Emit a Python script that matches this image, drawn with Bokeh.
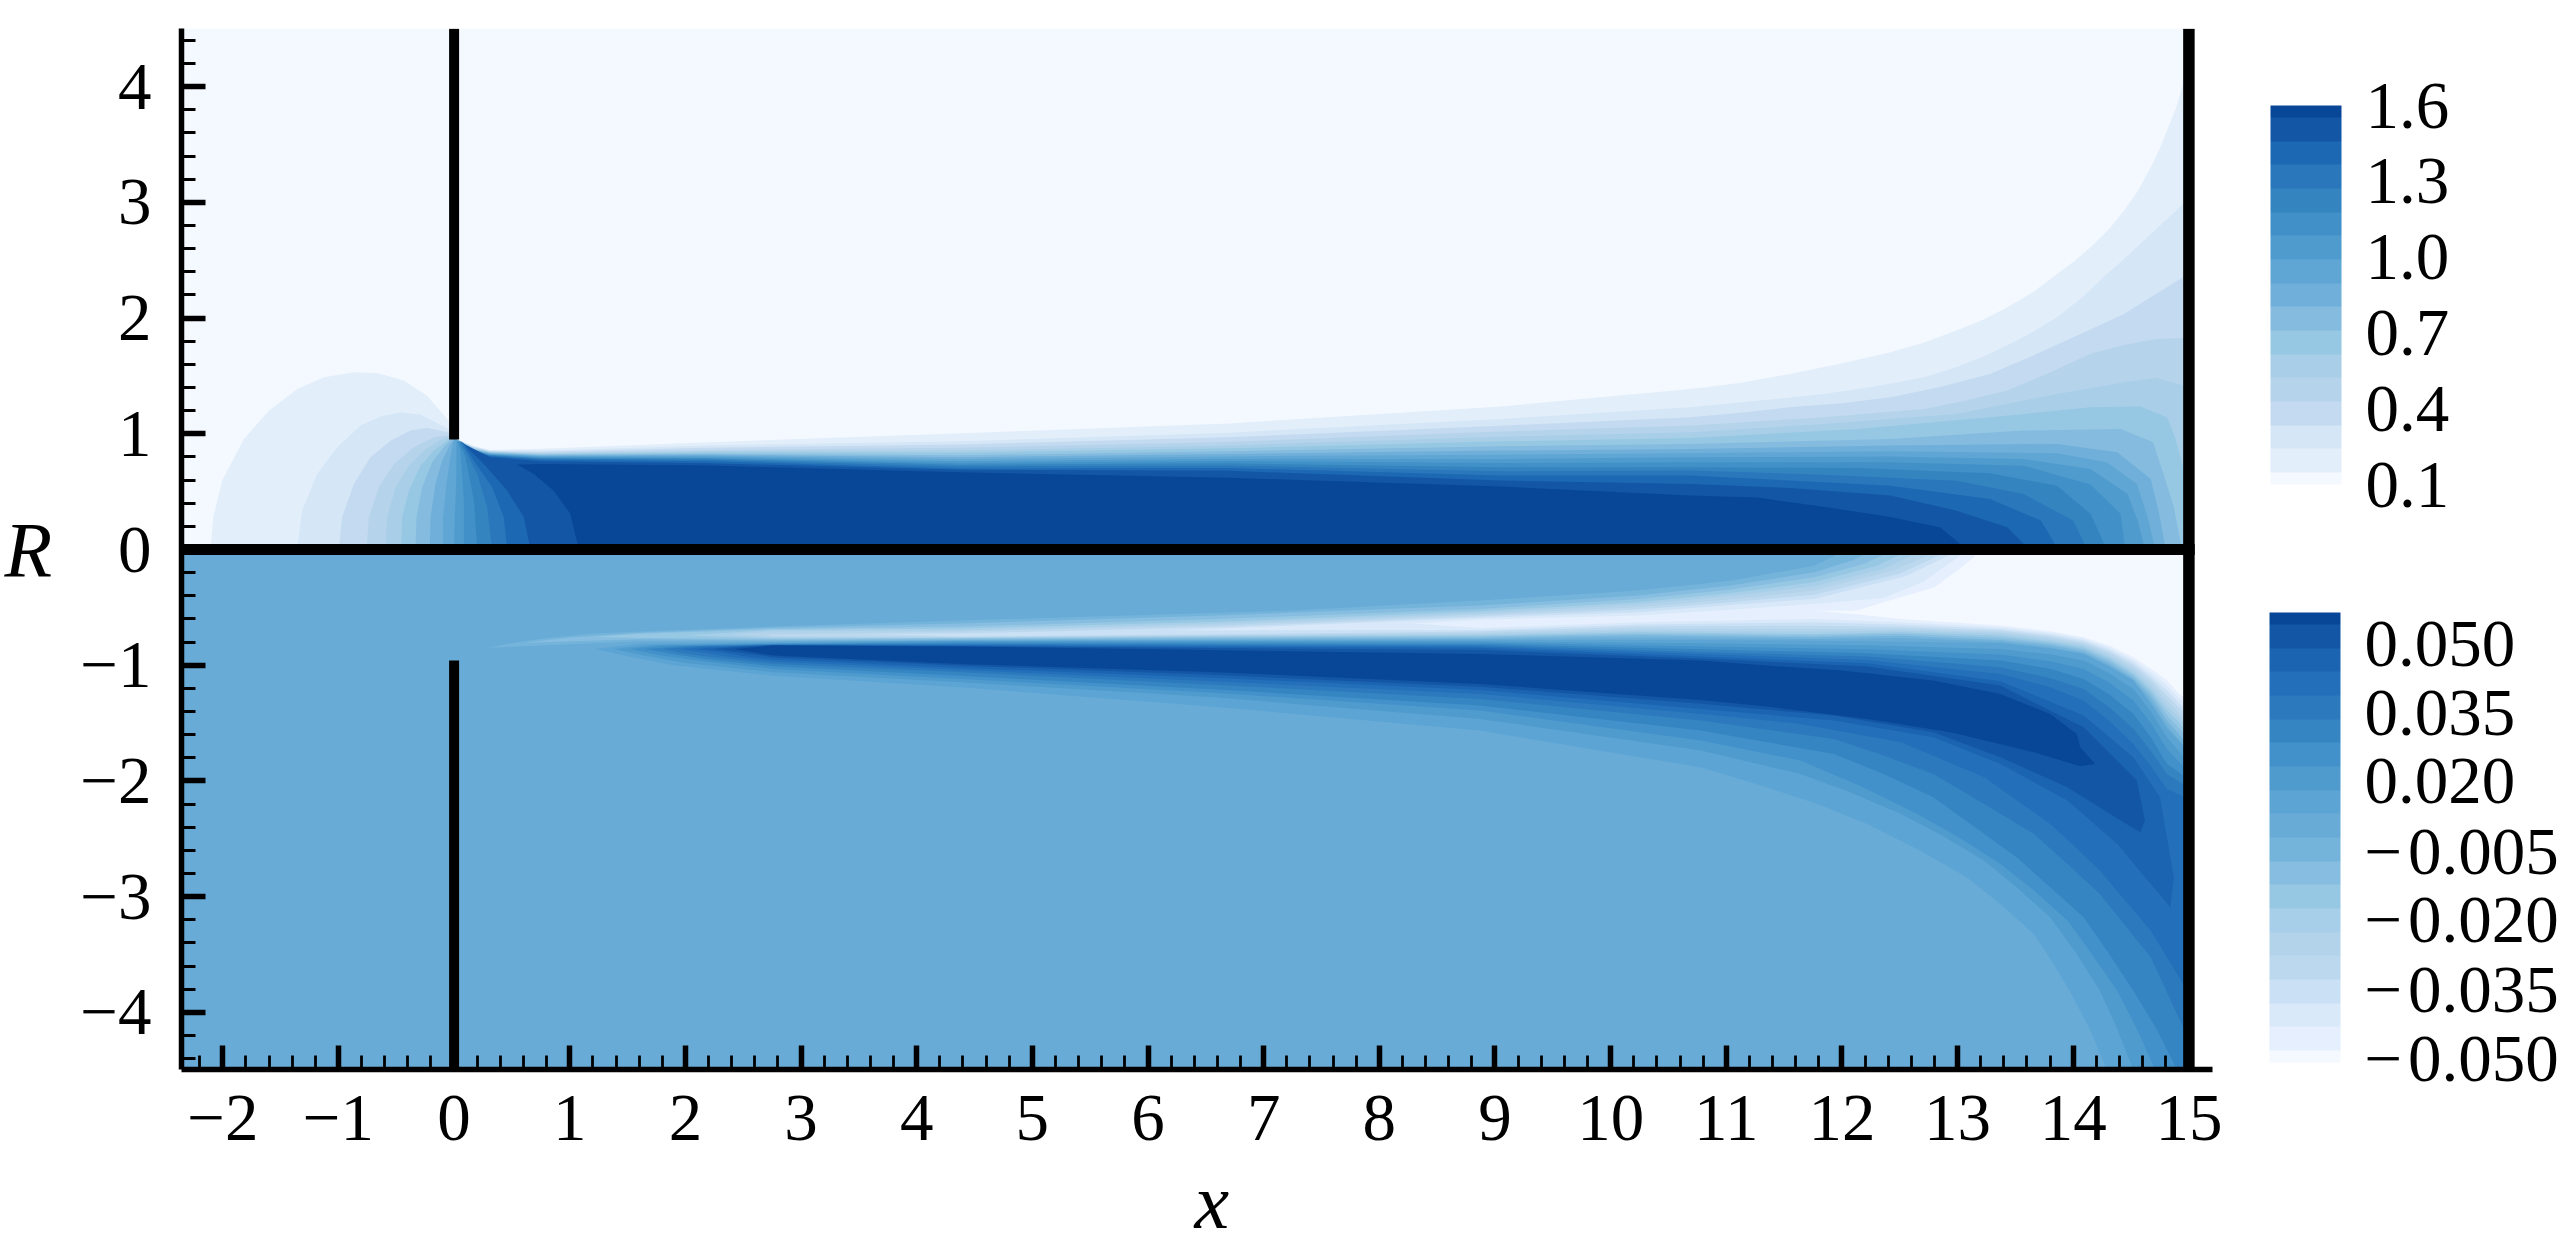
from bokeh.plotting import figure
from bokeh.embed import file_html
from bokeh.resources import INLINE
from bokeh.models import (AllLabels, FixedTicker, LinearColorMapper, ColorBar, BoxAnnotation, Range1d, Title)

# ---------- axes ----------
x_major = list(range(-2, 16))
x_minor = [round(-2.2 + 0.2 * i, 1) for i in range(87) if round((-2.2 + 0.2 * i) % 1, 1) not in (0.0, 1.0)]
y_major = list(range(-4, 5))
y_minor = [round(-4.4 + 0.2 * i, 1) for i in range(45) if round((-4.4 + 0.2 * i) % 1, 1) not in (0.0, 1.0)]
x_title = "x"
y_title = "R"

# ---------- colour bars ----------
top_ticks = [0.1, 0.4, 0.7, 1.0, 1.3, 1.6]
top_tick_labels = ["0.1", "0.4", "0.7", "1.0", "1.3", "1.6"]
# the lower bar's labels are evenly spaced along it, so they sit at these bar positions
bot_ticks = [-0.0489, -0.0336, -0.0182, -0.0029, 0.0127, 0.028, 0.0433]
bot_tick_labels = ["\u2212\u200a0.050", "\u2212\u200a0.035", "\u2212\u200a0.020", "\u2212\u200a0.005", "0.020", "0.035", "0.050"]

# lightest to darkest
top_colors = ["#f4f9ff", "#e3eefb", "#d5e6f6", "#c4daf0", "#b5d4ec", "#a8cfe7", "#96c8e3", "#84bbde", "#6fafda",
              "#5fa6d4", "#4f9bce", "#4191c8", "#3484c0", "#2a77bc", "#1c68b3", "#1356a5", "#084798"]
bot_colors = ["#f4f9ff", "#e5effd", "#dae9f9", "#cae0f5", "#bcd8ee", "#b2d3ea", "#a8cfe9", "#96c7e3", "#87bde0",
              "#74b4db", "#68abd7", "#5ca4d4", "#4f9bcd", "#4291ca", "#3585c2", "#2c7abd", "#236fba", "#1b64b1",
              "#1356a5", "#084798"]
bot_base = "#68abd7"

# ---------- upper panel: contour outlines ----------
# one outline per level, lowest level first
top_left = [
    [(-2.106, 0), (-2.083, .279), (-2.005, .596), (-1.818, .956), (-1.602, 1.2), (-1.357, 1.388), (-1.126, 1.489), (-.867, 1.532), (-.665, 1.526), (-.435, 1.46), (-.233, 1.33), (-.046, 1.114), (0, .96)],
    [(-1.357, 0), (-1.314, .336), (-1.184, .653), (-1.011, .884), (-.809, 1.071), (-.636, 1.149), (-.463, 1.184), (-.291, 1.166), (-.046, 1.042), (0, .96)],
    [(-.997, 0), (-.968, .279), (-.867, .567), (-.723, .797), (-.55, .941), (-.377, 1.028), (-.233, 1.051), (-.046, 1.013), (0, .96)],
    [(-.757, 0), (-.737, .279), (-.651, .538), (-.521, .74), (-.348, .884), (-.175, .97), (-.031, .99), (0, .96)],
    [(-.593, 0), (-.579, .279), (-.507, .538), (-.391, .725), (-.262, .855), (-.118, .947), (-.008, .985), (0, .96)],
    [(-.458, 0), (-.449, .279), (-.391, .509), (-.29, .725), (-.175, .855), (-.017, .97), (0.01, .96)],
    [(-.334, 0), (-.325, .279), (-.276, .538), (-.19, .754), (-.089, .884), (-.008, .97), (0.01, .96)],
    [(-.21, 0), (-.204, .279), (-.161, .567), (-.103, .769), (-.031, .913), (0.01, .96)],
    [(-.097, 0), (-.095, .279), (-.066, .567), (-.037, .769), (-.002, .956), (0.015, .95)],
    [(-.002, 0), (.006, .279), (.018, .567), (.021, .94)],
    [(.084, 0), (.084, .423), (.055, .855), (.03, .94)],
    [(.2, 0), (.171, .423), (.099, .797), (.04, .94)],
    [(.329, 0), (.286, .365), (.2, .653), (.055, .94)],
    [(.459, 0), (.43, .279), (.329, .538), (.17, .769), (.07, .927)],
    [(.66, 0), (.603, .279), (.459, .509), (.257, .74), (.084, .913)],
    [(1.078, 0), (1.006, .307), (.862, .509), (.689, .653), (.545, .734)],
]
top_edge_x = [.17, .31, .75, 2.2, 4.38, 6.7, 9.05, 10.69]
top_edge_y = [
    [.895, .86, .87, .928, 1.005, 1.09, 1.236, 1.388],
    [.89, .855, .856, .899, .936, 1.01, 1.129, 1.229],
    [.885, .85, .844, .879, .908, .97, 1.07, 1.143],
    [.88, .847, .836, .861, .879, .93, 1.02, 1.071],
    [.875, .844, .83, .85, .856, .90, .975, 1.013],
    [.87, .84, .824, .838, .836, .875, .935, .964],
    [.866, .836, .818, .827, .815, .85, .893, .913],
    [.862, .832, .812, .818, .798, .825, .855, .869],
    [.858, .828, .807, .81, .781, .805, .82, .832],
    [.854, .824, .801, .801, .763, .785, .783, .797],
    [.85, .82, .795, .792, .746, .765, .748, .754],
    [.846, .816, .789, .784, .732, .745, .711, .711],
    [.842, .812, .784, .775, .717, .725, .676, .682],
    [.838, .807, .775, .763, .70, .705, .639, .639],
    [None, .80, .763, .746, .689, .68, .596, .567],
    [None, None, .74, .726, .668, .62, .544, .466],
]
top_right = [
    [(11.11, 1.44), (11.55, 1.518), (11.98, 1.605), (12.42, 1.705), (12.71, 1.79), (12.99, 1.892), (13.22, 1.985), (13.43, 2.094), (13.66, 2.23), (13.86, 2.382), (14.0, 2.485), (14.15, 2.613), (14.31, 2.77), (14.44, 2.93), (14.56, 3.1), (14.67, 3.304), (14.75, 3.47), (14.81, 3.621), (14.89, 3.82), (14.95, 4.025), (15, 4.2), (15, 0)],
    [(11.27, 1.285), (11.84, 1.345), (12.28, 1.41), (12.71, 1.489), (13.0, 1.58), (13.28, 1.691), (13.58, 1.84), (13.86, 2.008), (14.08, 2.18), (14.29, 2.382), (14.44, 2.51), (14.58, 2.642), (14.76, 2.81), (14.95, 2.987), (15, 3.03), (15, 0)],
    [(11.1, 1.18), (11.55, 1.229), (12.0, 1.265), (12.42, 1.316), (12.85, 1.405), (13.28, 1.518), (13.64, 1.67), (14.0, 1.835), (14.22, 1.935), (14.44, 2.036), (14.7, 2.2), (14.95, 2.353), (15, 2.38), (15, 0)],
    [(11.84, 1.143), (12.71, 1.215), (13.08, 1.29), (13.43, 1.374), (13.8, 1.53), (14.15, 1.691), (14.45, 1.77), (14.72, 1.82), (15, 1.83), (15, 0)],
    [(11.84, 1.085), (12.99, 1.172), (13.86, 1.345), (14.44, 1.446), (14.72, 1.483), (14.95, 1.417), (15, 1.40), (15, 0)],
    [(12.13, 1.042), (13.28, 1.143), (14.15, 1.229), (14.58, 1.235), (14.81, 1.143), (14.88, .97), (14.95, .711), (15, .55), (15, 0)],
    [(12.42, .956), (13.57, 1.028), (14.41, 1.042), (14.69, .927), (14.78, .653), (14.87, .365), (14.93, .048), (14.93, 0)],
    [(12.42, .898), (13.86, .913), (14.38, .84), (14.67, .61), (14.74, .32), (14.8, 0)],
    [(12.42, .849), (13.86, .832), (14.29, .754), (14.55, .567), (14.64, .29), (14.71, 0)],
    [(12.42, .803), (13.57, .783), (14.15, .696), (14.47, .48), (14.56, .24), (14.62, 0)],
    [(12.42, .754), (13.57, .725), (14.15, .561), (14.41, .307), (14.45, 0)],
    [(12.13, .705), (13.28, .659), (13.86, .552), (14.15, .307), (14.29, 0)],
    [(11.84, .647), (12.99, .595), (13.57, .48), (14.0, .25), (14.12, 0)],
    [(11.55, .596), (12.42, .552), (13.28, .437), (13.72, .25), (13.87, 0)],
    [(11.55, .532), (12.42, .466), (12.99, .336), (13.43, .192), (13.62, 0)],
    [(11.27, .449), (11.84, .37), (12.42, .28), (12.85, .19), (13.08, 0)],
]

# ---------- lower panel: negative tongue, lowest magnitude first ----------
neg_upper = [
    [(.285, -.85), (.458, -.816), (.747, -.772), (1.18, -.729), (1.61, -.709), (2.76, -.666), (4.38, -.614), (5.82, -.571), (7.26, -.528), (8.87, -.441), (10.24, -.355), (11.04, -.269), (11.76, -.14), (12.05, 0)],
    [(.6, -.805), (1.0, -.76), (1.61, -.72), (2.76, -.677), (4.38, -.64), (6.6, -.57), (8.87, -.484), (10.24, -.398), (11.04, -.31), (11.76, -.197), (12.1, -.09), (12.28, 0)],
    [(1.2, -.755), (1.61, -.729), (2.76, -.686), (4.38, -.666), (6.6, -.60), (8.87, -.513), (10.24, -.427), (11.04, -.345), (11.76, -.24), (12.2, -.12), (12.45, 0)],
    [(2.0, -.74), (2.76, -.695), (4.38, -.683), (6.6, -.625), (8.87, -.533), (10.24, -.456), (11.04, -.375), (11.76, -.283), (12.3, -.14), (12.6, 0)],
    [(2.4, -.735), (2.76, -.706), (4.38, -.70), (6.6, -.64), (8.87, -.551), (10.24, -.476), (11.04, -.40), (11.76, -.318), (12.35, -.17), (12.72, 0)],
    [(2.7, -.735), (4.38, -.709), (6.6, -.655), (8.87, -.562), (10.24, -.499), (11.04, -.43), (11.76, -.355), (12.45, -.18), (12.85, 0)],
    [(3.6, -.73), (4.38, -.726), (6.6, -.67), (8.87, -.577), (10.24, -.519), (11.04, -.455), (11.76, -.39), (12.5, -.21), (12.95, 0)],
    [(6.2, -.70), (8.87, -.591), (10.24, -.542), (11.04, -.48), (11.76, -.427), (12.55, -.23), (13.03, 0)],
    [(8.3, -.64), (8.87, -.606), (10.24, -.571), (11.04, -.52), (11.76, -.47), (12.36, -.42), (12.7, -.28), (13.1, 0)],
    [(11.76, -.528), (12.12, -.53), (12.36, -.456), (12.8, -.326), (13.0, -.18), (13.14, -.067), (13.17, 0)],
]
neg_lower = [
    [(15, -1.75), (14.92, -1.65), (14.81, -1.522), (14.67, -1.31), (14.52, -1.127), (14.31, -1.0), (14.09, -.896), (13.8, -.845), (13.37, -.798), (12.5, -.764), (11.76, -.773), (10.24, -.764), (8.87, -.773), (6.6, -.78), (4.38, -.787), (2.76, -.793), (1.61, -.793), (.75, -.83)],
    [(15, -1.7), (14.92, -1.6), (14.81, -1.478), (14.67, -1.27), (14.52, -1.11), (14.31, -.98), (14.09, -.879), (13.8, -.825), (13.37, -.781), (12.5, -.746), (11.76, -.759), (10.24, -.744), (8.87, -.764), (6.6, -.77), (4.38, -.778), (2.76, -.784), (1.61, -.775)],
    [(15, -1.65), (14.92, -1.55), (14.81, -1.435), (14.67, -1.24), (14.52, -1.089), (14.31, -.96), (14.09, -.862), (13.8, -.81), (13.37, -.764), (12.5, -.729), (11.76, -.744), (10.24, -.73), (8.87, -.752), (6.6, -.76), (4.38, -.769), (2.76, -.775), (1.61, -.764)],
    [(15, -1.6), (14.92, -1.5), (14.81, -1.392), (14.67, -1.21), (14.52, -1.069), (14.31, -.94), (14.09, -.844), (13.8, -.795), (13.37, -.746), (12.5, -.715), (11.76, -.73), (10.24, -.715), (8.87, -.744), (6.6, -.752), (4.38, -.765), (2.76, -.767)],
    [(15, -1.55), (14.92, -1.46), (14.81, -1.349), (14.67, -1.18), (14.52, -1.046), (14.31, -.92), (14.09, -.83), (13.8, -.78), (13.37, -.729), (12.5, -.70), (11.76, -.71), (10.24, -.701), (8.87, -.732), (6.6, -.745), (4.38, -.761), (2.76, -.758)],
    [(15, -1.5), (14.92, -1.42), (14.81, -1.305), (14.67, -1.15), (14.52, -1.023), (14.31, -.902), (14.09, -.816), (13.8, -.765), (13.37, -.715), (12.5, -.686), (11.76, -.687), (10.24, -.687), (8.87, -.721), (6.6, -.74), (4.38, -.756), (2.76, -.752)],
    [(15, -1.45), (14.92, -1.37), (14.81, -1.262), (14.67, -1.12), (14.52, -1.0), (14.31, -.884), (14.09, -.801), (13.8, -.75), (13.37, -.70), (12.5, -.669), (11.76, -.658), (10.24, -.666), (8.87, -.709), (6.6, -.733), (4.38, -.752)],
    [(15, -1.4), (14.92, -1.33), (14.81, -1.219), (14.67, -1.09), (14.52, -.977), (14.31, -.866), (14.09, -.787), (13.8, -.735), (13.37, -.686), (12.5, -.648), (11.76, -.629), (10.24, -.649), (8.87, -.695)],
    [(15, -1.35), (14.92, -1.29), (14.81, -1.176), (14.67, -1.06), (14.52, -.954), (14.31, -.848), (14.09, -.772), (13.8, -.72), (13.37, -.672), (12.5, -.628), (11.76, -.60), (10.24, -.629), (8.87, -.678)],
    [(15, -1.3), (14.92, -1.25), (14.81, -1.133), (14.67, -1.03), (14.52, -.931), (14.31, -.83), (14.09, -.758), (13.8, -.706), (13.37, -.657), (12.5, -.60), (12.12, -.56)],
]

# ---------- lower panel: positive band, lowest level first ----------
pos_outline = [
    [(1.22, -.86), (1.6, -.815), (2.76, -.80), (4.38, -.787), (8.87, -.781), (10.78, -.781), (12.22, -.793), (13.37, -.81), (13.8, -.855), (14.09, -.902), (14.31, -1.01), (14.52, -1.133), (14.67, -1.33), (14.81, -1.55), (14.92, -1.66), (15, -1.767), (15, -4.5), (14.29, -4.5), (14.15, -4.159), (14.0, -3.87), (13.83, -3.582), (13.66, -3.323), (13.37, -3.063), (13.08, -2.833), (12.65, -2.588), (12.22, -2.372), (11.79, -2.199), (11.35, -2.055), (10.78, -1.882), (8.87, -1.565), (6.6, -1.36), (4.38, -1.19), (2.76, -1.09), (1.9, -1.0), (1.47, -.916)],
    [(1.38, -.86), (1.7, -.825), (2.76, -.81), (4.38, -.79), (8.87, -.793), (10.78, -.81), (12.22, -.827), (13.37, -.859), (13.8, -.905), (14.09, -.96), (14.31, -1.07), (14.52, -1.205), (14.67, -1.4), (14.81, -1.623), (14.92, -1.75), (15, -1.853), (15, -4.5), (14.52, -4.5), (14.38, -4.144), (14.23, -3.813), (14.02, -3.481), (13.8, -3.179), (13.51, -2.919), (13.23, -2.689), (12.87, -2.473), (12.51, -2.285), (12.07, -2.098), (11.64, -1.94), (10.78, -1.738), (8.87, -1.464), (6.6, -1.28), (4.38, -1.147), (2.76, -1.061), (2.0, -.98), (1.6, -.91)],
    [(1.525, -.86), (1.8, -.83), (2.76, -.815), (4.38, -.80), (8.87, -.804), (10.78, -.839), (12.22, -.862), (13.37, -.908), (13.8, -.965), (14.09, -1.032), (14.31, -1.15), (14.52, -1.305), (14.67, -1.5), (14.81, -1.723), (14.92, -1.84), (15, -1.925), (15, -4.5), (14.71, -4.5), (14.55, -4.144), (14.38, -3.813), (14.16, -3.496), (13.95, -3.207), (13.66, -2.948), (13.37, -2.718), (13.01, -2.487), (12.65, -2.285), (12.15, -2.04), (11.64, -1.824), (10.78, -1.651), (8.87, -1.392), (6.6, -1.24), (4.38, -1.119), (2.76, -1.032), (2.1, -.96), (1.75, -.91)],
    [(1.654, -.86), (1.95, -.835), (2.76, -.82), (4.38, -.81), (8.87, -.816), (10.78, -.862), (12.22, -.896), (13.37, -.96), (13.8, -1.03), (14.09, -1.118), (14.31, -1.25), (14.52, -1.421), (14.67, -1.62), (14.81, -1.853), (14.92, -1.93), (15, -1.997), (15, -4.5), (14.9, -4.5), (14.72, -4.144), (14.52, -3.813), (14.3, -3.481), (14.09, -3.179), (13.8, -2.919), (13.51, -2.66), (13.15, -2.401), (12.79, -2.141), (12.36, -1.94), (11.93, -1.767), (10.78, -1.565), (8.87, -1.349), (6.6, -1.21), (4.38, -1.09), (2.76, -1.009), (2.2, -.95), (1.9, -.905)],
    [(1.8, -.86), (2.1, -.835), (2.76, -.822), (4.38, -.816), (8.87, -.827), (10.78, -.885), (12.22, -.925), (13.37, -1.017), (13.8, -1.11), (14.09, -1.205), (14.31, -1.36), (14.52, -1.55), (14.67, -1.74), (14.81, -1.94), (14.92, -2.01), (15, -2.069), (15, -4.2), (14.95, -4.13), (14.81, -3.827), (14.67, -3.524), (14.45, -3.251), (14.23, -2.977), (13.95, -2.718), (13.66, -2.458), (13.23, -2.199), (12.79, -1.94), (12.36, -1.781), (11.93, -1.637), (10.78, -1.478), (8.87, -1.291), (6.6, -1.17), (4.38, -1.061), (2.76, -.989), (2.3, -.94), (2.0, -.9)],
    [(1.94, -.86), (2.2, -.84), (2.76, -.824), (4.38, -.825), (8.87, -.839), (10.78, -.902), (12.22, -.954), (13.37, -1.075), (13.8, -1.19), (14.09, -1.305), (14.31, -1.48), (14.52, -1.68), (14.67, -1.87), (14.81, -2.069), (14.92, -2.12), (15, -2.17), (15, -3.78), (14.95, -3.755), (14.67, -3.294), (14.45, -3.035), (14.23, -2.775), (14.02, -2.574), (13.8, -2.372), (13.23, -1.968), (12.51, -1.666), (11.64, -1.507), (10.78, -1.421), (8.87, -1.248), (6.6, -1.14), (4.38, -1.041), (2.76, -.971), (2.4, -.93), (2.15, -.89)],
    [(2.09, -.86), (2.4, -.84), (2.76, -.826), (4.38, -.83), (8.87, -.85), (10.78, -.925), (12.22, -.983), (13.37, -1.138), (14.09, -1.435), (14.52, -1.795), (14.75, -2.141), (14.87, -2.833), (14.84, -3.092), (14.67, -2.891), (14.38, -2.545), (13.95, -2.17), (13.37, -1.853), (12.79, -1.623), (11.93, -1.478), (10.78, -1.378), (8.87, -1.214), (6.6, -1.11), (4.38, -1.023), (2.76, -.951), (2.5, -.92), (2.3, -.885)],
    [(2.245, -.86), (2.5, -.84), (2.76, -.828), (4.38, -.835), (8.87, -.868), (10.78, -.942), (12.22, -1.012), (13.37, -1.176), (14.09, -1.536), (14.55, -1.997), (14.62, -2.343), (14.58, -2.444), (14.41, -2.343), (13.95, -2.055), (13.37, -1.795), (12.79, -1.579), (11.93, -1.435), (10.78, -1.334), (8.87, -1.185), (6.6, -1.085), (4.38, -1.003), (2.76, -.931), (2.55, -.90)],
    [(2.42, -.86), (2.76, -.83), (4.38, -.838), (8.87, -.902), (10.78, -.96), (11.35, -1.003), (12.0, -1.046), (12.79, -1.133), (13.37, -1.248), (13.8, -1.421), (14.03, -1.594), (14.06, -1.709), (14.19, -1.853), (14.06, -1.873), (13.66, -1.752), (12.94, -1.579), (12.22, -1.464), (11.35, -1.357), (10.78, -1.3), (8.87, -1.162), (6.6, -1.06), (4.38, -.989), (2.76, -.917), (2.6, -.89)],
]

# ---------- heavy black walls ----------
wall_x0 = [0, 0, 15]
wall_x1 = [0, 0, 15]
wall_y0 = [.95, -.96, -4.5]
wall_y1 = [4.5, -4.5, 4.5]
wall_w = [10, 10, 11.5]

FONT = "Liberation Serif"
TICK_PX = "67px"
TITLE_PX = "78px"

XLO, XHI = -2.357, 15.204
YLO, YHI = -4.494, 4.503
CANVAS_W, CANVAS_H = 2567, 1254

p = figure(width=CANVAS_W, height=CANVAS_H, output_backend="svg", toolbar_location=None,
           x_range=Range1d(XLO, XHI), y_range=Range1d(YLO, YHI),
           frame_width=2031, frame_height=1041,
           min_border_left=181, min_border_right=355, min_border_top=28, min_border_bottom=185)
p.grid.visible = False
p.outline_line_color = None
p.background_fill_color = "white"

# panels
p.quad(left=[XLO], right=[15], bottom=[0], top=[YHI], fill_color=top_colors[0], line_color=None)
p.quad(left=[XLO], right=[15], bottom=[YLO], top=[0], fill_color=bot_base, line_color=None)

# upper field
xs, ys, cs = [], [], []
for k in range(16):
    pts = list(top_left[k])
    for xv, yv in zip(top_edge_x, top_edge_y[k]):
        if yv is not None:
            pts.append((xv, yv))
    pts += top_right[k]
    xs.append([a for a, _ in pts])
    ys.append([b for _, b in pts])
    cs.append(top_colors[k + 1])
p.patches(xs, ys, fill_color=cs, line_color=None)

# lower field, negative part: tongue runs from its tip to the y = 0 line, to the wall and back
xs, ys, cs = [], [], []
for k in range(10):
    pts = list(neg_upper[k]) + [(15, 0)] + list(neg_lower[k])
    xs.append([a for a, _ in pts])
    ys.append([b for _, b in pts])
    cs.append(bot_colors[9 - k])
p.patches(xs, ys, fill_color=cs, line_color=None)

# lower field, positive part
xs, ys, cs = [], [], []
for k in range(9):
    xs.append([a for a, _ in pos_outline[k]])
    ys.append([b for _, b in pos_outline[k]])
    cs.append(bot_colors[11 + k])
p.patches(xs, ys, fill_color=cs, line_color=None)

# walls
p.segment(wall_x0, wall_y0, wall_x1, wall_y1, line_color="black", line_width=wall_w, line_cap="butt")
p.add_layout(BoxAnnotation(left=-2.4, right=15.05, bottom=-.0475, top=.0475,
                           fill_color="black", fill_alpha=1, line_color=None, level="overlay"))

# axes
xa = p.xaxis[0]
ya = p.yaxis[0]
xa.ticker = FixedTicker(ticks=x_major, minor_ticks=x_minor)
ya.ticker = FixedTicker(ticks=y_major, minor_ticks=y_minor)
xa.major_label_overrides = {v: str(v).replace("-", "\u2212") for v in x_major}
ya.major_label_overrides = {v: str(v).replace("-", "\u2212") for v in y_major}
for ax in (xa, ya):
    ax.axis_line_width = 5.5
    ax.axis_line_color = "black"
    ax.major_tick_in = 24
    ax.major_tick_out = 0
    ax.minor_tick_in = 14
    ax.minor_tick_out = 0
    ax.major_tick_line_width = 5.5
    ax.minor_tick_line_width = 2.8
    ax.major_tick_line_color = "black"
    ax.minor_tick_line_color = "black"
    ax.major_label_text_font = FONT
    ax.major_label_text_font_size = TICK_PX
    ax.major_label_text_color = "black"
xa.major_label_standoff = 26
ya.major_label_standoff = 30

# axis titles
ya.axis_label = y_title
ya.axis_label_orientation = "horizontal"
ya.axis_label_standoff = 25
ya.axis_label_text_font = FONT
ya.axis_label_text_font_size = TITLE_PX
ya.axis_label_text_font_style = "italic"
ya.axis_label_text_color = "black"
p.add_layout(Title(text=x_title, align="left", offset=1013, standoff=27, text_font=FONT, text_font_size=TITLE_PX,
                   text_font_style="italic", text_color="black"), "below")


def half_ended(colors):
    out = [colors[0]]
    for c in colors[1:-1]:
        out += [c, c]
    return out + [colors[-1]]


def bar(colors, low, high, ticks, labels, loc, h):
    mapper = LinearColorMapper(palette=half_ended(colors), low=low, high=high)
    cb = ColorBar(color_mapper=mapper, ticker=FixedTicker(ticks=ticks),
                  major_label_overrides=dict(zip(ticks, labels)), major_label_policy=AllLabels(),
                  width=71, height=h, location=loc, padding=0,
                  major_tick_line_color=None, minor_tick_line_color=None, bar_line_color=None,
                  border_line_color=None, background_fill_alpha=0,
                  major_label_text_font=FONT, major_label_text_font_size=TICK_PX,
                  major_label_text_color="black", label_standoff=24)
    p.add_layout(cb, "center")


bar(top_colors, 0.1, 1.6, top_ticks, top_tick_labels, (2089, 585), 379)
bar(bot_colors, -0.050, 0.050, bot_ticks, bot_tick_labels, (2088, 7), 450)

open("out.html", "w").write(file_html(p, INLINE))
